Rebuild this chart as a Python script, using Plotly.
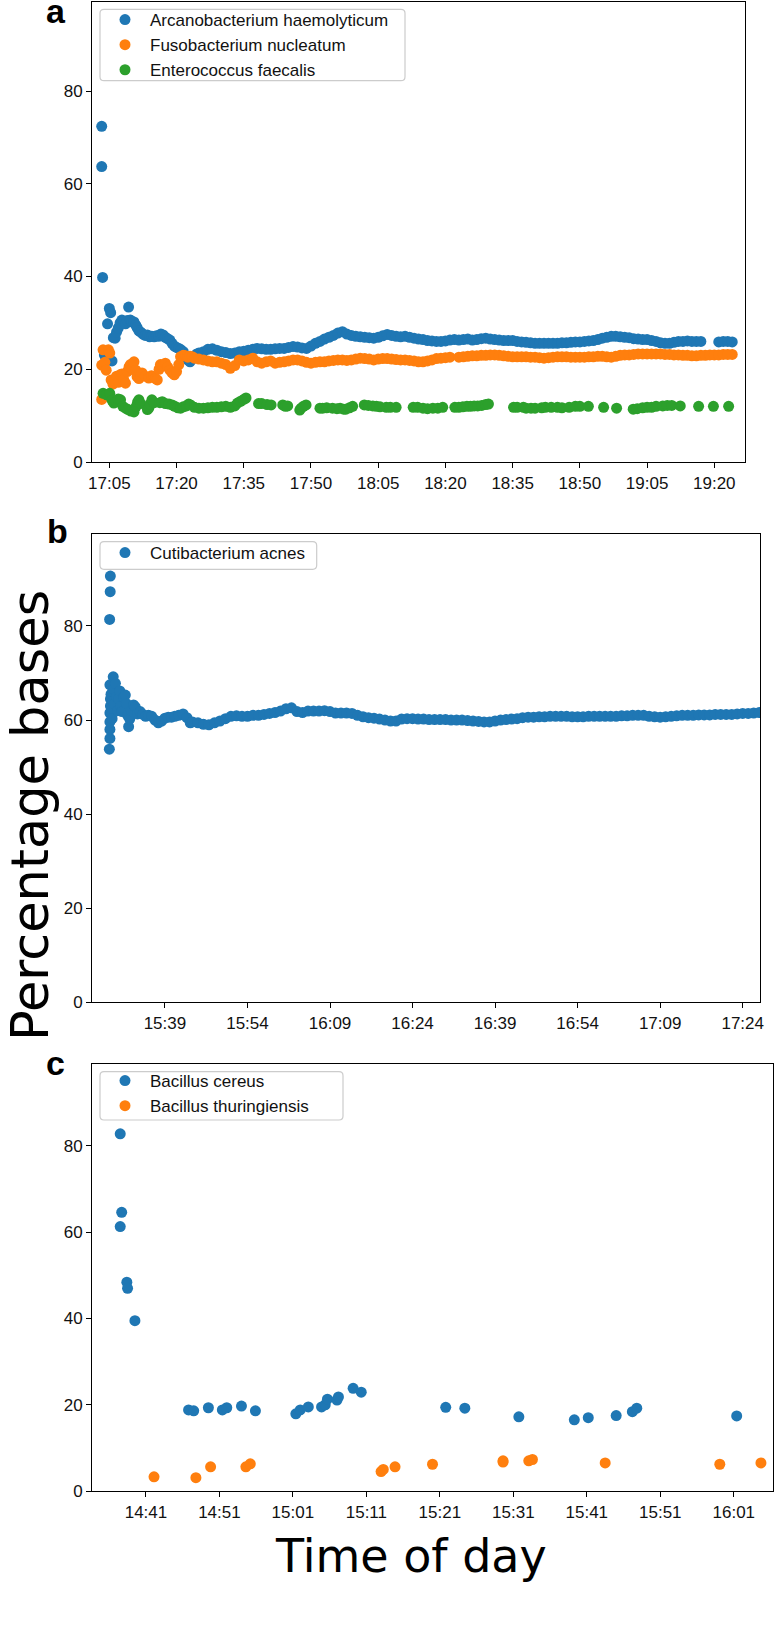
import pandas as pd
import plotly.graph_objects as go

# ---------------- Panel a (minutes after 17:00) ----------------
a_base = "2020-01-01 17:00:00"
a_blue_t = [3.3, 3.3, 3.5, 3.9, 4.2, 4.6, 5.0, 5.3, 5.6, 5.9, 6.3, 6.6, 7.0, 7.4, 7.8, 8.2, 8.6, 9.0, 9.3, 9.7,
            10.1, 10.5, 10.9, 11.2, 11.6, 12.0, 12.5, 13.0, 13.5, 14.0, 14.5, 15.0, 15.5, 16.0, 16.5, 17.0, 17.5,
            18.0, 18.5, 19.0, 19.5, 20.0, 20.5, 21.0, 21.5, 22.0, 22.5, 23.0, 23.5, 24.0, 24.5, 25.0,
            26, 27, 28, 29, 30, 31, 32, 33, 34, 35, 36, 37, 38, 39, 40, 41, 42, 43, 44, 45, 46, 47, 48, 49, 50,
            51, 52, 53, 54, 55, 56, 57, 58, 59, 60, 61, 62, 63, 64, 65, 66, 67, 68, 69, 70, 71, 72, 73, 74, 75,
            76, 77, 78, 79, 80, 81, 82, 83, 84, 85, 86, 87, 88, 89, 90, 91, 92, 93, 94, 95, 96, 97, 98, 99, 100,
            101, 102, 103, 104, 105, 106, 107, 108, 109, 110, 111, 112, 113, 114, 115, 116, 117, 118, 119, 120,
            121, 122, 123, 124, 125, 126, 127, 128, 129, 130, 131, 132, 133, 134, 135, 136, 137, 141, 142, 143, 144]
a_blue_v = [72.4, 63.7, 39.8, 23.1, 22.5, 29.8, 33.1, 32.2, 21.8, 26.8, 26.7, 28.0, 28.9, 30.0, 30.6, 30.3, 29.8, 30.5, 33.4, 30.6,
            30.2, 30.2, 29.5, 29.0, 28.3, 28.0, 27.6, 27.3, 27.4, 27.0, 27.1, 27.0, 27.2, 27.1, 27.6, 27.4, 26.9,
            26.6, 26.3, 25.6, 25.0, 24.7, 24.5, 24.2, 23.8, 22.7, 22.0, 21.6, 22.2, 22.8, 23.3, 23.5,
            23.8, 24.3, 24.4, 24.1, 23.8, 23.6, 23.4, 23.5, 23.8, 23.9, 24.1, 24.3, 24.5, 24.4, 24.3, 24.3, 24.4, 24.5, 24.5, 24.7, 24.9, 24.8, 24.6, 24.5, 25.0,
            25.6, 26.0, 26.5, 26.9, 27.3, 27.8, 28.1, 27.6, 27.3, 27.1, 27.0, 26.9, 26.8, 26.7, 26.9, 27.2, 27.5, 27.3, 27.1, 27.0, 27.1, 26.9, 26.7, 26.5, 26.4,
            26.2, 26.1, 26.0, 26.0, 26.1, 26.3, 26.4, 26.3, 26.4, 26.5, 26.3, 26.4, 26.6, 26.7, 26.5, 26.4, 26.3, 26.2, 26.2, 26.2, 26.0, 25.9, 25.8, 25.7, 25.6,
            25.6, 25.6, 25.6, 25.6, 25.6, 25.7, 25.7, 25.8, 25.9, 25.9, 26.0, 26.1, 26.2, 26.4, 26.7, 26.9, 27.1, 27.1, 27.0, 26.9,
            26.8, 26.6, 26.5, 26.4, 26.4, 26.2, 26.0, 25.7, 25.6, 25.6, 25.8, 26.0, 26.0, 26.1, 26.0, 26.0, 26.0, 25.9, 26.0, 26.0, 25.9]

a_orange_t = [3.3, 3.3, 3.6, 4.0, 4.3, 4.8, 5.1, 5.4, 5.8, 6.2, 6.6, 7.0, 7.4, 7.8, 8.2, 8.6, 9.0, 9.4, 9.7, 10.1,
              10.5, 10.9, 11.2, 11.6, 12.0, 12.3, 13.0, 13.8, 14.4, 14.9, 15.3, 15.7, 16.1, 16.4, 17.0, 17.5, 18.0,
              18.5, 19.0, 19.5, 20.0, 20.5, 20.9, 21.5, 22.0, 22.5, 23.0, 23.5,
              24, 25, 26, 27, 28, 29, 30, 31, 32, 33, 34, 35, 36, 37, 38, 39, 40, 41, 42, 43, 44, 45, 46, 47, 48,
              49, 50, 51, 52, 53, 54, 55, 56, 57, 58, 59, 60, 61, 62, 63, 64, 65, 66, 67, 68, 69, 70, 71, 72, 73,
              74, 75, 76, 77, 78, 79, 80, 81, 83, 84, 85, 86, 87, 88, 89, 90, 91, 92, 93, 94, 95, 96, 97, 98, 99,
              100, 101, 102, 103, 104, 105, 106, 107, 108, 109, 110, 111, 112, 113, 114, 115, 116, 117, 118, 119,
              120, 121, 122, 123, 124, 125, 126, 127, 128, 129, 130, 131, 132, 133, 134, 135, 136, 137, 138, 139,
              140, 141, 142, 143, 144]
a_orange_v = [13.5, 20.9, 24.2, 21.5, 19.8, 24.2, 23.5, 17.7, 16.8, 17.5, 18.5, 17.2, 18.8, 19.0, 17.8, 17.0, 19.5, 20.5, 21.0, 20.0,
              21.6, 19.8, 18.4, 18.0, 18.6, 19.2, 18.5, 18.1, 18.6, 18.4, 18.0, 17.7, 20.0, 21.0, 20.8, 21.3, 20.5,
              19.8, 19.2, 18.8, 19.5, 21.0, 22.7, 23.0, 22.9, 22.6, 22.8, 22.7,
              22.4, 22.2, 22.0, 21.8, 21.6, 21.6, 21.3, 21.0, 20.2, 20.8, 22.0, 21.8, 22.0, 22.4, 21.6, 21.3, 21.6, 21.8, 21.3, 21.5, 21.6, 21.8, 22.0, 22.0, 21.8,
              21.5, 21.3, 21.5, 21.6, 21.6, 21.8, 21.9, 22.0, 22.0, 21.9, 22.0, 22.2, 22.4, 22.3, 22.2, 22.0, 22.2, 22.3, 22.3, 22.2, 22.1, 22.0, 22.0, 21.9, 21.8,
              21.6, 21.6, 21.8, 22.0, 22.3, 22.4, 22.5, 22.6, 22.6, 22.7, 22.8, 22.9, 22.9, 23.0, 23.0, 23.1, 23.1, 23.0, 22.9, 22.8, 22.7, 22.7, 22.7, 22.7, 22.6,
              22.6, 22.5, 22.4, 22.5, 22.6, 22.7, 22.7, 22.7, 22.6, 22.6, 22.6, 22.6, 22.7, 22.7, 22.8, 22.8, 22.7, 22.6, 22.8, 23.0,
              23.1, 23.1, 23.2, 23.3, 23.3, 23.3, 23.3, 23.3, 23.3, 23.2, 23.2, 23.1, 23.1, 23.0, 23.0, 22.9, 22.9, 23.0, 23.0, 23.1,
              23.1, 23.1, 23.2, 23.2, 23.2]

a_green_t = [3.6, 4.4, 5.1, 5.6, 6.0, 6.5, 7.0, 7.5, 8.0, 8.6, 9.2, 9.8, 10.5, 11.0, 11.3, 11.6, 12.0, 13.5, 13.8, 14.1,
             14.5, 15.0, 16.3, 16.8, 17.5, 18.3, 19.0, 19.6, 20.3, 20.9, 21.5, 22.2, 22.7, 23.1, 24.0, 25.0, 26.0, 27.0,
             28.0, 29.0, 30.0, 31.0, 32.0, 33.0, 33.6, 34.3, 35.0, 35.5, 38.3, 39.0, 40.2, 41.1, 43.7, 44.3, 44.8, 47.5,
             47.8, 48.3, 48.9, 52.0, 52.6, 53.5, 54.8, 55.8, 56.5, 57.3, 57.8, 58.6, 59.3, 61.9, 62.8, 63.8, 64.6, 65.4,
             66.8, 67.7, 69.0, 72.8, 73.8, 75.0, 76.0, 77.2, 78.3, 79.4, 82.1, 83.0, 83.9, 84.8, 85.6, 86.4, 87.2, 88.1,
             89.0, 89.6, 95.2, 96.0, 97.4, 98.0, 99.1, 100.0, 101.5, 102.3, 103.6, 105.0, 106.0, 107.6, 109.0, 110.0,
             111.9, 115.3, 118.2, 121.9, 122.8, 124.0, 125.0, 126.0, 127.0, 128.5, 129.5, 130.5, 132.4, 136.5, 139.8, 143.2]
a_green_v = [14.8, 14.5, 14.8, 13.3, 12.7, 13.0, 13.6, 13.4, 12.0, 11.6, 11.3, 11.0, 10.8, 12.0, 12.9, 13.4, 12.6, 11.3, 11.6, 12.5,
             13.4, 12.8, 12.8, 13.0, 12.6, 12.5, 12.3, 12.0, 11.7, 11.6, 11.9, 12.1, 12.5, 12.3, 11.8, 11.6, 11.6, 11.7,
             11.8, 11.8, 11.9, 12.0, 11.8, 12.1, 12.7, 13.1, 13.5, 13.8, 12.6, 12.6, 12.4, 12.3, 12.3, 12.0, 12.1, 11.2,
             11.6, 12.0, 12.3, 11.6, 11.6, 11.7, 11.6, 11.5, 11.6, 11.4, 11.4, 11.7, 12.0, 12.3, 12.2, 12.1, 12.0, 11.9,
             11.8, 11.8, 11.8, 11.8, 11.8, 11.6, 11.5, 11.6, 11.6, 11.8, 11.8, 11.8, 11.9, 12.0, 12.0, 12.1, 12.1, 12.2,
             12.4, 12.5, 11.8, 11.8, 11.8, 11.6, 11.6, 11.6, 11.7, 11.8, 11.8, 11.8, 11.7, 11.8, 12.0, 12.0,
             12.0, 11.8, 11.6, 11.4, 11.5, 11.7, 11.8, 11.8, 12.0, 12.1, 12.2, 12.2, 12.1, 12.0, 12.0, 12.0]

# ---------------- Panel b (minutes after 15:00) ----------------
b_base = "2020-01-01 15:00:00"
b_t = [28.9, 29.0, 29.0, 29.0, 29.0, 29.1, 29.1, 29.0, 29.2, 29.3, 29.4, 29.5, 29.6, 29.7, 29.8, 30.0, 30.2, 30.4,
       30.6, 30.8, 31.0, 31.2, 31.5, 31.8, 32.0, 32.2, 32.4, 32.6, 32.9, 33.3, 33.6, 34.0, 34.5, 35.0, 35.5, 36.0,
       36.6, 37.2, 37.8, 38.4, 39.0, 39.6, 40.2, 40.8, 41.5, 42.3, 43.0, 43.6, 29.08, 29.05, 28.95,
       44, 45, 46, 47, 48, 49, 50, 51, 52, 53, 54, 55, 56, 57, 58, 59, 60, 61, 62, 63, 64, 65, 66, 67, 68, 69, 70,
       71, 72, 73, 74, 75, 76, 77, 78, 79, 80, 81, 82, 83, 84, 85, 86, 87, 88, 89, 90, 91, 92, 93, 94, 95, 96, 97,
       98, 99, 100, 101, 102, 103, 104, 105, 106, 107, 108, 109, 110, 111, 112, 113, 114, 115, 116, 117, 118, 119,
       120, 121, 122, 123, 124, 125, 126, 127, 128, 129, 130, 131, 132, 133, 134, 135, 136, 137, 138, 139, 140,
       141, 142, 143, 144, 145, 146, 147]
b_v = [53.8, 56.1, 58.0, 59.6, 61.5, 63.0, 64.5, 67.5, 65.5, 62.5, 60.3, 64.0, 69.2, 66.5, 63.5, 67.8, 65.0, 62.0,
       64.5, 66.2, 63.0, 61.8, 64.8, 65.3, 63.5, 61.0, 58.6, 60.2, 62.0, 63.2, 62.8, 61.3, 61.8, 61.2, 60.8, 61.0,
       60.8, 60.0, 59.4, 59.8, 60.4, 60.6, 60.6, 60.8, 61.0, 61.3, 60.5, 59.4, 90.6, 87.3, 81.4,
       59.6, 59.4, 59.1, 59.0, 59.4, 59.8, 60.3, 60.8, 60.9, 60.8, 60.8, 61.0, 61.0, 61.2, 61.4, 61.6, 61.9, 62.4, 62.6, 61.8, 61.6, 61.9, 61.9, 61.9, 62.0, 61.8, 61.5,
       61.5, 61.5, 61.4, 61.0, 60.7, 60.5, 60.4, 60.2, 60.0, 59.8, 59.8, 60.2, 60.3, 60.3, 60.2, 60.2, 60.1, 60.1, 60.1, 60.1, 60.0, 60.0, 60.0, 59.9, 59.8, 59.7, 59.6,
       59.6, 59.8, 60.0, 60.1, 60.2, 60.3, 60.5, 60.6, 60.6, 60.7, 60.7, 60.8, 60.8, 60.8, 60.8, 60.7, 60.7, 60.7, 60.8, 60.8, 60.8, 60.8,
       60.8, 60.8, 60.9, 60.9, 61.0, 61.0, 61.0, 60.8, 60.7, 60.6, 60.7, 60.8, 60.9, 61.0, 61.0, 61.0, 61.1, 61.1, 61.1, 61.2, 61.2,
       61.2, 61.2, 61.3, 61.4, 61.4, 61.5, 61.6]

# ---------------- Panel c (minutes after 14:00) ----------------
c_base = "2020-01-01 14:00:00"
c_blue_t = [37.5, 37.5, 37.7, 38.4, 38.5, 39.5, 46.8, 47.5, 49.5, 51.4, 52.0, 54.0, 55.9, 61.4, 62.0, 63.1, 64.9,
            65.4, 65.7, 67.0, 67.2, 69.2, 70.3, 81.8, 84.4, 91.75, 99.3, 101.2, 105.0, 107.2, 107.8, 121.4]
c_blue_v = [82.8, 61.3, 64.6, 48.4, 47.0, 39.5, 18.8, 18.6, 19.3, 18.8, 19.3, 19.7, 18.6, 17.9, 18.8, 19.5, 19.5,
            20.0, 21.3, 21.1, 21.8, 23.8, 22.9, 19.4, 19.2, 17.2, 16.5, 17.0, 17.5, 18.4, 19.2, 17.4]
c_orange_t = [42.1, 47.8, 49.8, 54.6, 55.2, 73.0, 73.3, 74.9, 80.0, 89.6, 89.6, 93.1, 93.6, 103.5, 119.1, 124.7]
c_orange_v = [3.3, 3.1, 5.6, 5.6, 6.3, 4.5, 5.0, 5.6, 6.2, 7.0, 6.7, 7.0, 7.3, 6.5, 6.2, 6.5]

a_ticks = ["17:05", "17:20", "17:35", "17:50", "18:05", "18:20", "18:35", "18:50", "19:05", "19:20"]
b_ticks = ["15:39", "15:54", "16:09", "16:24", "16:39", "16:54", "17:09", "17:24"]
c_ticks = ["14:41", "14:51", "15:01", "15:11", "15:21", "15:31", "15:41", "15:51", "16:01"]
y_ticks = [0, 20, 40, 60, 80]


def to_time(base, mins):
    return pd.Timestamp(base) + pd.to_timedelta(pd.Series(mins), unit="m")


def tick_times(labels):
    return [pd.Timestamp("2020-01-01 " + s + ":00") for s in labels]


BLUE, ORANGE, GREEN = "#1f77b4", "#ff7f0e", "#2ca02c"
MS = 11

fig = go.Figure()


def add(x, y, name, color, xa, ya, leg):
    fig.add_trace(go.Scatter(x=x, y=y, mode="markers", name=name,
                             marker=dict(color=color, size=MS, line=dict(width=0)),
                             xaxis=xa, yaxis=ya, legend=leg, showlegend=True))


add(to_time(a_base, a_blue_t), a_blue_v, "Arcanobacterium haemolyticum", BLUE, "x", "y", "legend")
add(to_time(a_base, a_orange_t), a_orange_v, "Fusobacterium nucleatum", ORANGE, "x", "y", "legend")
add(to_time(a_base, a_green_t), a_green_v, "Enterococcus faecalis", GREEN, "x", "y", "legend")
add(to_time(b_base, b_t), b_v, "Cutibacterium acnes", BLUE, "x2", "y2", "legend2")
add(to_time(c_base, c_blue_t), c_blue_v, "Bacillus cereus", BLUE, "x3", "y3", "legend3")
add(to_time(c_base, c_orange_t), c_orange_v, "Bacillus thuringiensis", ORANGE, "x3", "y3", "legend3")

W, H = 774, 1643
TICKFONT = dict(family="Liberation Sans, Arial, sans-serif", size=17, color="#111")


def px_x(p):
    return p / W


def px_y(p):
    return 1 - p / H


def xaxis(dom, rng, labels, anchor):
    return dict(domain=dom, range=rng, anchor=anchor, type="date", automargin=False,
                tickvals=tick_times(labels), ticktext=labels,
                showline=True, linecolor="black", linewidth=1.3, mirror=True,
                ticks="outside", ticklen=5, tickwidth=1.2, tickcolor="black",
                showgrid=False, zeroline=False, tickfont=TICKFONT)


def yaxis(dom, top, anchor):
    return dict(domain=dom, range=[0, top], anchor=anchor, automargin=False,
                tickvals=y_ticks, showline=True, linecolor="black", linewidth=1.3, mirror=True,
                ticks="outside", ticklen=5, tickwidth=1.2, tickcolor="black",
                showgrid=False, zeroline=False, tickfont=TICKFONT)


LEGFONT = dict(family="Liberation Sans, Arial, sans-serif", size=17, color="#111")


def legend(xp, yp):
    return dict(x=px_x(xp), y=px_y(yp), xanchor="left", yanchor="top",
                bgcolor="rgba(0,0,0,0)", borderwidth=0,
                font=LEGFONT, itemwidth=40, tracegroupgap=0)


def round_box(x0, y0, x1, y1, r=4):
    """Rounded legend frame, in figure pixels converted to paper units."""
    rx, ry = r / W, r / H
    X0, X1 = px_x(x0), px_x(x1)
    Y0, Y1 = px_y(y0), px_y(y1)  # Y0 top, Y1 bottom
    path = (f"M {X0 + rx},{Y0} L {X1 - rx},{Y0} Q {X1},{Y0} {X1},{Y0 - ry} "
            f"L {X1},{Y1 + ry} Q {X1},{Y1} {X1 - rx},{Y1} "
            f"L {X0 + rx},{Y1} Q {X0},{Y1} {X0},{Y1 + ry} "
            f"L {X0},{Y0 - ry} Q {X0},{Y0} {X0 + rx},{Y0} Z")
    return dict(type="path", path=path, xref="paper", yref="paper", layer="above",
                fillcolor="rgba(255,255,255,0.8)", line=dict(color="#cccccc", width=1.2))


fig.update_layout(
    width=W, height=H, margin=dict(l=0, r=0, t=0, b=0, autoexpand=False),
    paper_bgcolor="white", plot_bgcolor="white",
    xaxis=xaxis([px_x(92.3), px_x(745)], ["2020-01-01 17:01:12", "2020-01-01 19:26:51"], a_ticks, "y"),
    yaxis=yaxis([px_y(462), px_y(2)], 99.2, "x"),
    xaxis2=xaxis([px_x(92.3), px_x(760.3)], ["2020-01-01 15:25:48", "2020-01-01 17:27:12"], b_ticks, "y2"),
    yaxis2=yaxis([px_y(1002.3), px_y(534)], 99.55, "x2"),
    xaxis3=xaxis([px_x(92.3), px_x(772.7)], ["2020-01-01 14:33:42", "2020-01-01 16:06:18"], c_ticks, "y3"),
    yaxis3=yaxis([px_y(1491), px_y(1064)], 99.0, "x3"),
    legend=legend(100, 2),
    legend2=legend(100, 535),
    legend3=legend(100, 1063),
    showlegend=True,
    shapes=[round_box(100, 9.3, 405, 80.7), round_box(100, 541.7, 316.7, 569.3),
            round_box(100, 1071.7, 343, 1120)],
)

LABELFONT = dict(family="Liberation Sans, Arial, sans-serif", size=34, color="black")
for txt, cx, cy in [("<b>a</b>", 56, 11), ("<b>b</b>", 57, 531), ("<b>c</b>", 56, 1063)]:
    fig.add_annotation(text=txt, x=px_x(cx), y=px_y(cy), xref="paper", yref="paper",
                       xanchor="center", yanchor="middle", showarrow=False, font=LABELFONT)

fig.add_annotation(text="Percentage bases", x=px_x(30), y=px_y(816), xref="paper", yref="paper",
                   xanchor="center", yanchor="middle", textangle=-90, showarrow=False,
                   font=dict(family="DejaVu Sans, sans-serif", size=51, color="black"))
fig.add_annotation(text="Time of day", x=px_x(411), y=px_y(1556), xref="paper", yref="paper",
                   xanchor="center", yanchor="middle", showarrow=False,
                   font=dict(family="DejaVu Sans, sans-serif", size=46, color="black"))

fig.write_html("out.html", config={"displayModeBar": False},
               post_script="document.body.style.margin='0';document.body.style.overflow='hidden';")
